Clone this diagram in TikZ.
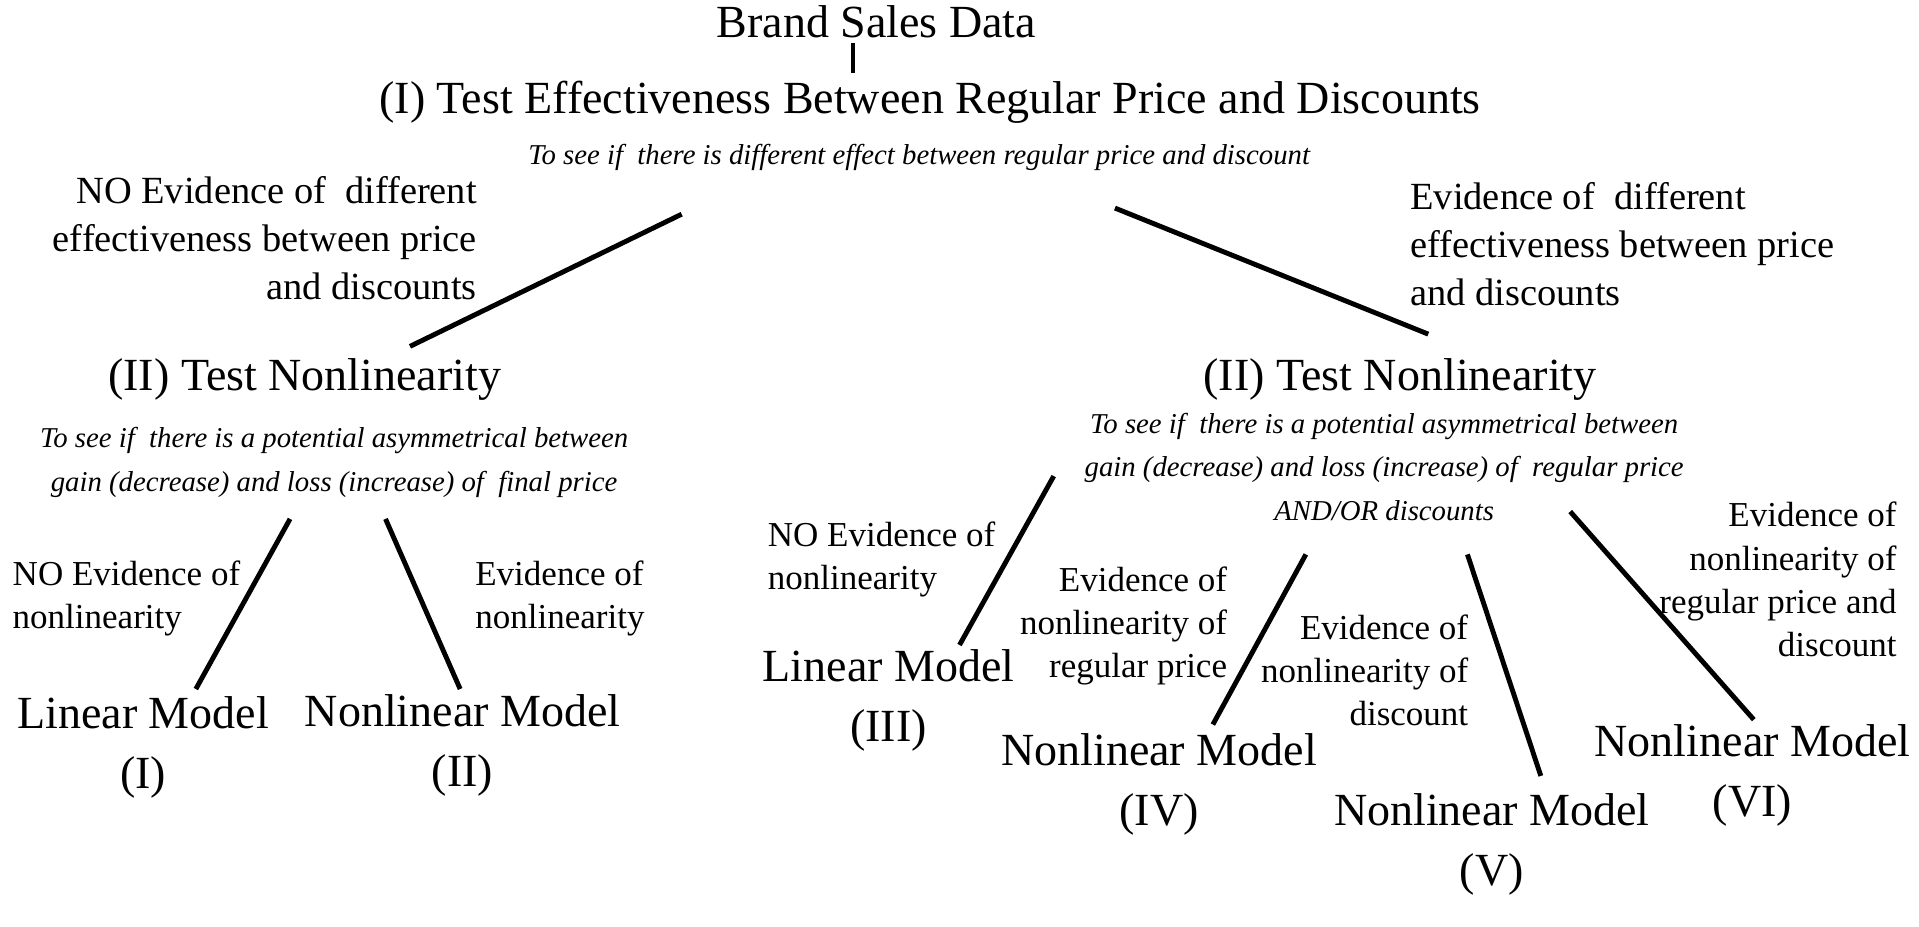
\documentclass[tikz,border=0pt]{standalone}
\usepackage{fontspec}
\setmainfont{Liberation Serif}
\begin{document}
\begin{tikzpicture}[x=0.5pt,y=-0.5pt,line join=round,
	head/.style={font=\fontsize{18.8}{24.5}\selectfont,inner sep=0pt},
	model/.style={head,align=center,anchor=north},
	note/.style={font=\fontsize{11.75}{17.75}\selectfont\itshape,inner sep=0pt,align=center},
	bigcase/.style={font=\fontsize{15.7}{19.5}\selectfont,inner sep=0pt},
	case/.style={font=\fontsize{14.3}{17.6}\selectfont,inner sep=0pt},
	branch/.style={line width=2pt}]
			\useasboundingbox (0,0) rectangle (1568,757);
			\node[head,anchor=base] (brand) at (716,31) {Brand Sales Data};
			\node[head,anchor=base] (test1) at (760,93) {(I) Test Effectiveness Between Regular Price and Discounts};
			\node[note,anchor=base] (note0) at (751,134) {To see if~ there is different effect between regular price and discount};
			\node[bigcase,align=right,anchor=north east] (noeff) at (390,144) {NO Evidence of~ different\\effectiveness between price\\and discounts};
			\node[bigcase,align=left,anchor=north west] (eff) at (1152,149) {Evidence of~ different\\effectiveness between price\\and discounts};
			\node[head,anchor=base] (nl1) at (249,319) {(II) Test Nonlinearity};
			\node[head,anchor=base] (nl2) at (1144,319) {(II) Test Nonlinearity};
			\node[note,anchor=north] (note1) at (273,349) {To see if~ there is a potential asymmetrical between\\gain (decrease) and loss (increase) of~ final price};
			\node[note,anchor=north] (note2) at (1131,337) {To see if~ there is a potential asymmetrical between\\gain (decrease) and loss (increase) of~ regular price\\AND/OR discounts};
			\node[case,align=left,anchor=north west] (nonl1) at (10,458) {NO Evidence of\\nonlinearity};
			\node[case,align=left,anchor=north west] (evl1) at (388,458) {Evidence of\\nonlinearity};
			\node[case,align=left,anchor=north west] (nonl2) at (627,426) {NO Evidence of\\nonlinearity};
			\node[case,align=right,anchor=north east] (evreg) at (1003,463) {Evidence of\\nonlinearity of\\regular price};
			\node[case,align=right,anchor=north east] (evdis) at (1200,502) {Evidence of\\nonlinearity of\\discount};
			\node[case,align=right,anchor=north east] (evboth) at (1550,410) {Evidence of\\nonlinearity of\\regular price and\\discount};
			\node[model] (lm1) at (117,569) {Linear Model\\(I)};
			\node[model] (nm2) at (378,567) {Nonlinear Model\\(II)};
			\node[model] (lm3) at (726,530) {Linear Model\\(III)};
			\node[model] (nm4) at (947,599) {Nonlinear Model\\(IV)};
			\node[model] (nm5) at (1219,648) {Nonlinear Model\\(V)};
			\node[model] (nm6) at (1432,592) {Nonlinear Model\\(VI)};
			\draw[line width=1.5pt] ([shift={(-19,4)}]brand.base)--([shift={(-63,-33)}]test1.base);
			\draw[branch] ([shift={(-194,41)}]note0.base)--([shift={(86,-36)}]nl1.base);
			\draw[branch] ([shift={(160,36)}]note0.base)--([shift={(23,-46)}]nl2.base);
			\draw[branch] ([shift={(-36,75)}]note1.north)--([shift={(43,-6)}]lm1.north);
			\draw[branch] ([shift={(42,75)}]note1.north)--([shift={(-2,-4)}]nm2.north);
			\draw[branch] ([shift={(-270,52)}]note2.north)--([shift={(58,-3)}]lm3.north);
			\draw[branch] ([shift={(-64,116)}]note2.north)--([shift={(44,-7)}]nm4.north);
			\draw[branch] ([shift={(68,116)}]note2.north)--([shift={(40,-14)}]nm5.north);
			\draw[branch] ([shift={(152,81)}]note2.north)--([shift={(1,-4)}]nm6.north);
\end{tikzpicture}
\end{document}
